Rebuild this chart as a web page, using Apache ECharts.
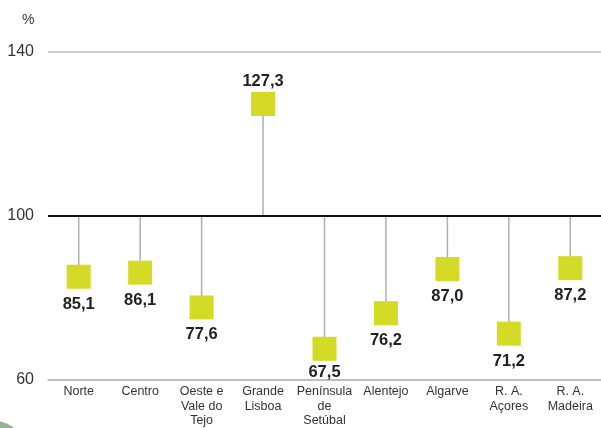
<!DOCTYPE html>
<html><head><meta charset="utf-8">
<script src="https://cdn.jsdelivr.net/npm/echarts@6/dist/echarts.min.js"></script>
<style>html,body{margin:0;padding:0;background:#fff}#c{width:601px;height:428px}</style>
</head><body><div id="c"></div>
<script>
var categories = ['Norte','Centro','Oeste e\nVale do\nTejo','Grande\nLisboa','Península\nde\nSetúbal','Alentejo','Algarve','R. A.\nAçores','R. A.\nMadeira'];
var values = [85.1, 86.1, 77.6, 127.3, 67.5, 76.2, 87.0, 71.2, 87.2];
var yTicks = [60, 100, 140];
var baseline = 100;

var chart = echarts.init(document.getElementById('c'));
chart.setOption({
  animation: false,
  grid: {left: 48, right: 0, top: 52, bottom: 48},
  graphic: [
    {type: 'text', left: 22, top: 13, style: {text: '%', font: '14px "Liberation Sans", Arial', fill: '#333'}},
    {type: 'circle', shape: {cx: -10, cy: 462, r: 42}, style: {fill: '#96b396'}}
  ],
  xAxis: {
    type: 'category', data: categories,
    axisLine: {show: true, lineStyle: {color: '#bbb', width: 1.5}},
    axisTick: {show: false},
    axisLabel: {interval: 0, color: '#333', fontSize: 12.5, fontFamily: '"Liberation Sans", Arial', lineHeight: 14.5, margin: 5}
  },
  yAxis: {
    type: 'value', min: 60, max: 140, interval: 40,
    axisLine: {show: false}, axisTick: {show: false},
    splitLine: {show: true, lineStyle: {color: '#bbb', width: 1.5}},
    axisLabel: {color: '#333', fontSize: 16, fontFamily: '"Liberation Sans", Arial', margin: 14,
      formatter: function(v){ return yTicks.indexOf(v) >= 0 ? String(v) : ''; }}
  },
  series: [
    {
      type: 'custom', z: 2,
      data: values.map(function(v, i){ return [i, v]; }),
      renderItem: function(params, api){
        var p0 = api.coord([api.value(0), baseline]);
        var p1 = api.coord([api.value(0), api.value(1)]);
        return {type: 'line', shape: {x1: p0[0], y1: p0[1], x2: p1[0], y2: p1[1]}, style: {stroke: '#b0b0b0', lineWidth: 1.5}};
      },
      markLine: {
        silent: true, symbol: 'none', label: {show: false},
        lineStyle: {color: '#111', width: 2, type: 'solid'},
        data: [{yAxis: baseline}]
      }
    },
    {
      type: 'scatter', z: 5,
      data: values.map(function(v, i){
        return {value: [i, v], label: {position: v >= baseline ? 'top' : 'bottom', distance: v >= baseline ? 2 : (v < 70 ? 3 : 7)}};
      }),
      symbol: 'rect', symbolSize: 24,
      itemStyle: {color: '#d4db26', opacity: 1},
      label: {show: true, color: '#222', fontSize: 16.5, fontWeight: 'bold', fontFamily: '"Liberation Sans", Arial',
        formatter: function(p){ return p.value[1].toFixed(1).replace('.', ','); }}
    }
  ]
});
</script></body></html>
